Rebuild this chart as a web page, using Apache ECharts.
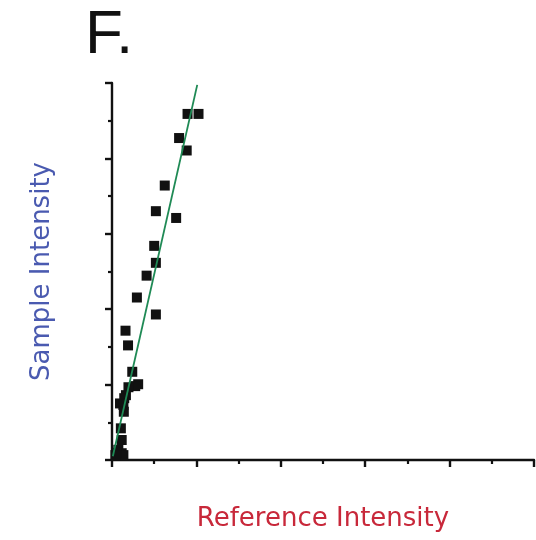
<!DOCTYPE html>
<html>
<head>
<meta charset="utf-8">
<script src="https://cdn.jsdelivr.net/npm/echarts@6/dist/echarts.min.js"></script>
<style>html,body{margin:0;padding:0;background:#fff;}#c{width:536px;height:540px;}</style>
</head>
<body>
<div id="c"></div>
<script>
// Scatter points (reference intensity, sample intensity)
const refX = [1.79, 2.05, 1.59, 1.77, 1.25, 1.04, 1.52, 1.00, 1.04, 0.82, 0.59, 1.04, 0.32, 0.38, 0.48, 0.62, 0.55, 0.39, 0.33, 0.29, 0.19, 0.27, 0.28, 0.21, 0.23, 0.15, 0.23, 0.27, 0.11, 0.08];
const sampleY = [9.18, 9.18, 8.54, 8.21, 7.28, 6.60, 6.42, 5.68, 5.23, 4.89, 4.31, 3.86, 3.43, 3.04, 2.34, 2.01, 1.96, 1.93, 1.72, 1.64, 1.50, 1.46, 1.28, 0.84, 0.53, 0.27, 0.18, 0.13, 0.19, 0.13];
// Fitted line endpoints
const fitX = [0.02, 2.02];
const fitY = [0.10, 9.95];

const points = refX.map((x, i) => [x, sampleY[i]]);
const fit = fitX.map((x, i) => [x, fitY[i]]);

const chart = echarts.init(document.getElementById('c'));
const axisCommon = {
  type: 'value', min: 0, max: 10, interval: 2,
  axisLine: { show: true, lineStyle: { color: '#111', width: 2.4 } },
  axisTick: { show: true, inside: false, length: 7, lineStyle: { color: '#111', width: 2.4 } },
  minorTick: { show: true, splitNumber: 2, length: 4, lineStyle: { color: '#111', width: 2.2 } },
  axisLabel: { show: false },
  splitLine: { show: false },
  nameLocation: 'middle',
  nameTextStyle: { fontFamily: 'DejaVu Sans', fontSize: 26 }
};
chart.setOption({
  animation: false,
  backgroundColor: '#fff',
  title: {
    text: 'F.', left: 80, top: 0,
    textStyle: { fontFamily: 'Liberation Sans', fontSize: 62, fontWeight: 'normal', color: '#111' }
  },
  grid: { left: 112, right: 2, top: 83, bottom: 80 },
  xAxis: Object.assign({}, axisCommon, {
    name: 'Reference Intensity', nameGap: 46,
    nameTextStyle: { fontFamily: 'DejaVu Sans', fontSize: 26, color: '#c8283a' }
  }),
  yAxis: Object.assign({}, axisCommon, {
    name: 'Sample Intensity', nameGap: 57,
    nameTextStyle: { fontFamily: 'DejaVu Sans', fontSize: 26, color: '#4a5ab0' }
  }),
  series: [
    {
      type: 'line', data: fit, symbol: 'none', z: 3,
      lineStyle: { color: '#1f8a55', width: 1.8 }
    },
    {
      type: 'scatter', data: points, symbol: 'rect', symbolSize: 10, z: 2,
      itemStyle: { color: '#111', opacity: 1 }
    }
  ]
});
</script>
</body>
</html>
